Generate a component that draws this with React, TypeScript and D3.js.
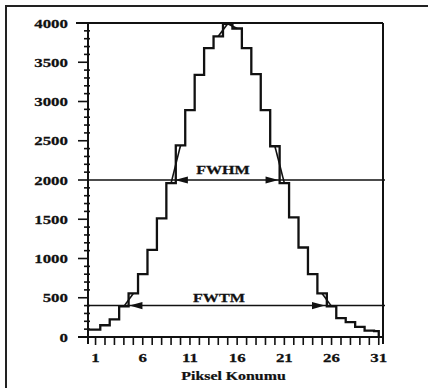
import * as d3 from 'd3';

// counts per pixel position 1..31
const pixelCounts = [95, 150, 225, 390, 555, 800, 1110, 1510, 1960, 2440, 2890, 3340, 3680, 3830, 3990, 3930, 3680, 3350, 2890, 2430, 1960, 1525, 1140, 800, 555, 390, 240, 190, 130, 80, 75];
const xTickLabels = [1, 6, 11, 16, 21, 26, 31];
const yTickLabels = [0, 500, 1000, 1500, 2000, 2500, 3000, 3500, 4000];
const fwhmLevel = 2000;
const fwtmLevel = 400;
const labelPos = 14.6;

const W = 428;
const H = 388;
const FONT = '"Liberation Serif", "DejaVu Serif", serif';

const x = d3.scaleLinear().domain([0.2, 31.45]).range([88, 383]);
const y = d3.scaleLinear().domain([0, 4000]).range([337, 23]);

const pts = pixelCounts.map((c, i) => ({ p: i + 1, c }));

// find fractional crossing positions (linear interpolation between pixels)
function crossings(level: number) {
  const peak = d3.maxIndex(pixelCounts);
  let left = 0;
  let right = 0;
  let li = 0;
  let ri = 0;
  for (let i = 0; i < peak; i++) {
    if (pixelCounts[i] < level && pixelCounts[i + 1] >= level) {
      left = i + 1 + (level - pixelCounts[i]) / (pixelCounts[i + 1] - pixelCounts[i]);
      li = i;
    }
  }
  for (let i = peak; i < pixelCounts.length - 1; i++) {
    if (pixelCounts[i] >= level && pixelCounts[i + 1] < level) {
      right = i + 1 + (pixelCounts[i] - level) / (pixelCounts[i] - pixelCounts[i + 1]);
      ri = i;
    }
  }
  return { left, right, li, ri };
}

function Wide({ px, py, sx, anchor, size, children }: any) {
  return (
    <text
      transform={`translate(${px},${py}) scale(${sx},1)`}
      textAnchor={anchor}
      fontFamily={FONT}
      fontWeight="bold"
      fontSize={size}
      fill="#111"
      stroke="#111"
      strokeWidth={0.25}
    >
      {children}
    </text>
  );
}

function Arrow({ tipX, tipY, dir }: { tipX: number; tipY: number; dir: number }) {
  const len = 13;
  const half = 3.6;
  const d = `M${tipX},${tipY} L${tipX + dir * len},${tipY - half} L${tipX + dir * len},${tipY + half} Z`;
  return <path d={d} fill="#111" />;
}

export default function App() {
  const stepLine = d3
    .line<{ p: number; c: number }>()
    .x((d) => x(d.p))
    .y((d) => y(d.c))
    .curve(d3.curveStep);
  const stepPts = [{ p: x.domain()[0], c: pixelCounts[0] }, ...pts, { p: pts.length, c: 0 }];

  const half = crossings(fwhmLevel);
  const tenth = crossings(fwtmLevel);

  // interpolation segments between neighbouring pixels
  const peak = d3.maxIndex(pixelCounts);
  const segs = [half.li, half.ri, tenth.li, tenth.ri, peak - 1, peak];

  const minorY = d3.range(0, 4001, 100);
  const minorX = d3.range(1, 32);

  return (
    <svg width={W} height={H} style={{ position: 'absolute', left: 0, top: 0, background: '#fff' }}>
      {/* outer frame */}
      <path d={`M6,${H + 2} L6,6 L${W + 2},6`} fill="none" stroke="#222" strokeWidth={2} />

      {/* frame of the plot */}
      <line x1={76} x2={x.range()[1]} y1={y(4000)} y2={y(4000)} stroke="#111" strokeWidth={2} />
      <line x1={x.range()[1]} x2={x.range()[1]} y1={y(4000)} y2={y(0) + 7} stroke="#111" strokeWidth={2} />
      <line x1={x.range()[0]} x2={x.range()[0]} y1={y(4000)} y2={y(0) + 7} stroke="#111" strokeWidth={2} />
      <line x1={78} x2={x.range()[1]} y1={y(0)} y2={y(0)} stroke="#111" strokeWidth={2} />

      {/* y ticks */}
      {minorY.map((v) => (
        <line
          key={'ym' + v}
          x1={x.range()[0] - (v % 500 === 0 ? 10 : 4)}
          x2={x.range()[0] + (v % 500 === 0 ? 0 : 2)}
          y1={y(v)}
          y2={y(v)}
          stroke="#111"
          strokeWidth={1.6}
        />
      ))}
      {yTickLabels.map((v) => (
        <Wide key={'yl' + v} px={68} py={y(v) + 4.5} sx={1.3} anchor="end" size={13}>
          {v}
        </Wide>
      ))}

      {/* x ticks */}
      {minorX.map((v) => (
        <line key={'xm' + v} x1={x(v)} x2={x(v)} y1={y(0)} y2={y(0) + 8} stroke="#111" strokeWidth={1.6} />
      ))}
      {xTickLabels.map((v) => (
        <Wide key={'xl' + v} px={x(v)} py={362} sx={1.3} anchor="middle" size={13}>
          {v}
        </Wide>
      ))}
      <Wide px={(x.range()[0] + x.range()[1]) / 2 - 2} py={380} sx={1.22} anchor="middle" size={13}>
        Piksel Konumu
      </Wide>

      {/* level lines */}
      {[fwhmLevel, fwtmLevel].map((lv) => (
        <line key={'lv' + lv} x1={x.range()[0]} x2={x.range()[1] + 2} y1={y(lv)} y2={y(lv)} stroke="#111" strokeWidth={1.5} />
      ))}

      {/* step profile */}
      <path d={stepLine(stepPts) || ''} fill="none" stroke="#111" strokeWidth={2.3} strokeLinejoin="miter" />

      {/* linear interpolation segments */}
      {segs.map((i, k) => (
        <line
          key={'seg' + k}
          x1={x(i + 1)}
          y1={y(pixelCounts[i])}
          x2={x(i + 2)}
          y2={y(pixelCounts[i + 1])}
          stroke="#111"
          strokeWidth={1.6}
        />
      ))}

      {/* arrows */}
      <Arrow tipX={x(half.left) + 3} tipY={y(fwhmLevel)} dir={1} />
      <Arrow tipX={x(half.right) - 5} tipY={y(fwhmLevel)} dir={-1} />
      <Arrow tipX={x(tenth.left) + 5} tipY={y(fwtmLevel)} dir={1} />
      <Arrow tipX={x(tenth.right) - 6} tipY={y(fwtmLevel)} dir={-1} />

      <Wide px={x(labelPos) - 1} py={y(fwhmLevel) - 6} sx={1.4} anchor="middle" size={11.5}>
        FWHM
      </Wide>
      <Wide px={x(labelPos) - 5} py={y(fwtmLevel) - 4} sx={1.4} anchor="middle" size={11.5}>
        FWTM
      </Wide>
    </svg>
  );
}
